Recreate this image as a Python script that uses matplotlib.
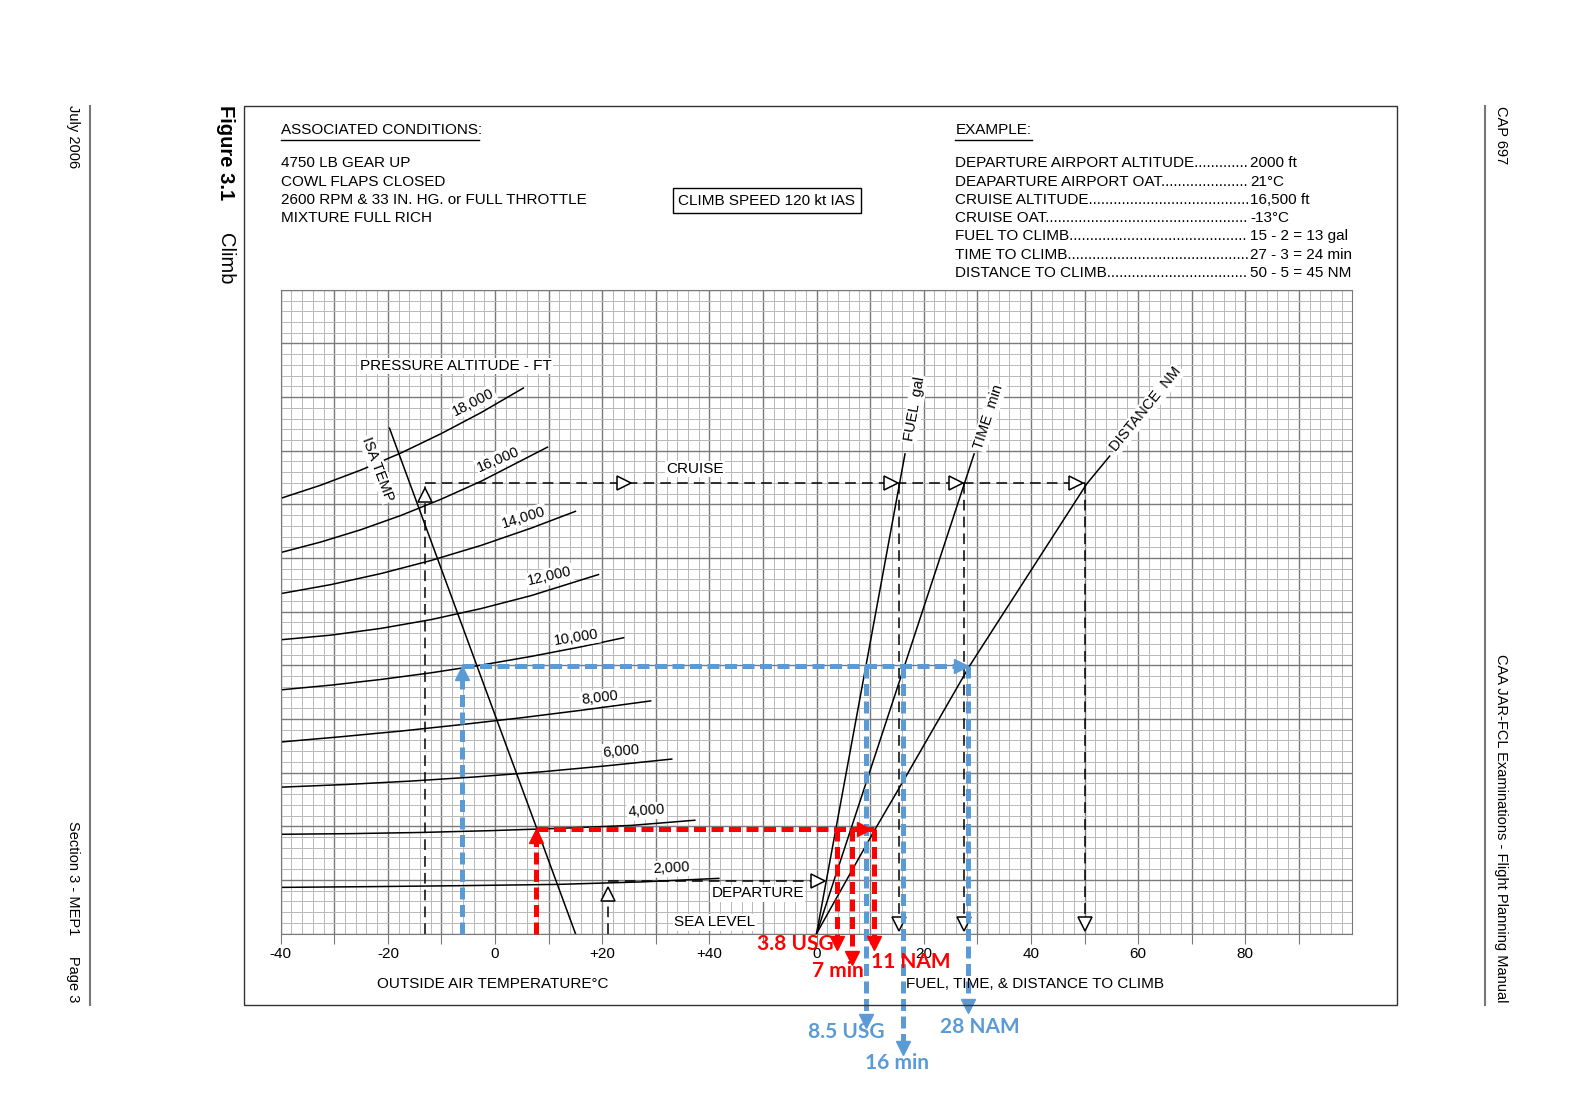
import matplotlib.pyplot as plt
import numpy as np
from matplotlib.lines import Line2D
from matplotlib.patches import Rectangle

plt.rcParams['font.family'] = ['Liberation Sans', 'DejaVu Sans']

# ---- data ----
# x: OAT in degC on the left part, fuel/time/distance on the right part
# (the right scale's zero sits where +60 degC would be)
OFFSET = 60
temp_ticks = [-40, -20, 0, 20, 40]
temp_ticklabels = ['-40', '-20', '0', '+20', '+40']
ftd_ticks = [0, 20, 40, 60, 80]

# pressure altitude curves, y in minor grid cells above the bottom edge
alt_names = ['2,000', '4,000', '6,000', '8,000', '10,000', '12,000', '14,000', '16,000', '18,000']
alt_oat = [
    [-40, -23.16, -6.32, 11.82, 27.35, 41.76],
    [-40, -26.90, -13.81, -0.71, 12.38, 25.48, 37.27],
    [-40, -27.84, -15.68, -3.52, 8.64, 20.80, 32.97],
    [-40, -28.77, -17.55, -6.32, 4.90, 16.13, 29.04],
    [-40, -30.65, -21.29, -11.94, -2.58, 6.77, 16.13, 23.99],
    [-40, -30.65, -21.29, -11.94, -2.58, 6.77, 19.31],
    [-40, -30.65, -21.29, -11.94, -2.58, 6.77, 15.0],
    [-40, -32.52, -25.03, -17.55, -10.07, -2.58, 9.77],
    [-40, -32.52, -25.03, -17.55, -10.07, -2.58, 5.28],
]
alt_h = [
    [4.30, 4.37, 4.46, 4.58, 4.81, 5.14],
    [9.25, 9.31, 9.42, 9.59, 9.81, 10.08, 10.56],
    [13.64, 13.89, 14.21, 14.60, 15.07, 15.63, 16.26],
    [17.85, 18.34, 18.87, 19.47, 20.11, 20.81, 21.68],
    [22.71, 23.15, 23.68, 24.30, 25.02, 25.83, 26.73, 27.57],
    [27.38, 27.81, 28.44, 29.26, 30.29, 31.50, 33.46],
    [31.68, 32.52, 33.55, 34.77, 36.18, 37.79, 39.35],
    [35.51, 36.49, 37.64, 38.97, 40.48, 42.16, 45.33],
    [40.56, 41.79, 43.20, 44.79, 46.59, 48.56, 50.84],
]
isa_oat = [15.0, -19.7]
isa_h = [0, 47.1]

fuel_val = [0, 16.5]
fuel_h = [0, 44.7]
time_val = [0, 29.4]
time_h = [0, 44.7]
dist_val = [0, 6.4, 10.9, 15.7, 28.5, 33.9, 50.4, 54.7]
dist_h = [0, 5.7, 9.7, 13.8, 24.9, 29.1, 41.9, 44.5]

# printed example (black dashed)
dep_oat, dep_h = 21, 4.85
cruise_oat, cruise_h = -13, 42.0
cruise_reads = [15.4, 27.5, 50.0]

# hand-drawn overlays
red_oat, red_h = 7.7, 9.72
red_reads = [3.9, 6.7, 10.7]
red_labels = ['3.8 USG', '7 min', '11 NAM']
blue_oat, blue_h = -6.1, 24.9
blue_reads = [9.2, 16.2, 28.3]
blue_labels = ['8.5 USG', '16 min', '28 NAM']

conditions = ['4750 LB GEAR UP', 'COWL FLAPS CLOSED',
              '2600 RPM & 33 IN. HG. or FULL THROTTLE', 'MIXTURE FULL RICH']
example_names = ['DEPARTURE AIRPORT ALTITUDE', 'DEAPARTURE AIRPORT OAT', 'CRUISE ALTITUDE',
                 'CRUISE OAT', 'FUEL TO CLIMB', 'TIME TO CLIMB', 'DISTANCE TO CLIMB']
example_values = ['2000 ft', '21°C', '16,500 ft', '-13°C', '15 - 2 = 13 gal',
                  '27 - 3 = 24 min', '50 - 5 = 45 NM']

RED = '#FF0000'
BLUE = '#5B9BD5'
W, H = 1568, 1108


def fx(px):
    return px / W


def fy(py):
    return 1 - py / H


fig = plt.figure(figsize=(15.72, 11.11), dpi=100)
ax = fig.add_axes([fx(280), fy(931), (1349 - 280) / W, (931 - 289) / H])
ax.set_xlim(-40, 160)
ax.set_ylim(0, 60)
ax.set_axisbelow(True)

# grid
ax.set_xticks(np.arange(-40, 161, 2), minor=True)
ax.set_yticks(np.arange(0, 61, 1), minor=True)
major_x = np.arange(-40, 151, 10)
ax.set_xticks(major_x)
ax.set_yticks(np.arange(0, 61, 5))
ax.grid(which='minor', color='#b8b8b8', lw=0.7)
ax.grid(which='major', color='#7a7a7a', lw=1.0)
labels = []
for t in major_x:
    if t in temp_ticks:
        labels.append(temp_ticklabels[temp_ticks.index(t)])
    elif t - OFFSET in ftd_ticks:
        labels.append(str(t - OFFSET))
    else:
        labels.append('')
ax.set_xticklabels(labels, fontsize=11)
ax.tick_params(axis='x', which='major', length=7.5, color='#7a7a7a', pad=2.5)
ax.tick_params(which='minor', length=0)
ax.tick_params(axis='y', length=0, labelleft=False)
for s in ax.spines.values():
    s.set_color('#7a7a7a')

# altitude curves and ISA line
for xs, ys in zip(alt_oat, alt_h):
    ax.plot(xs, ys, color='black', lw=1.1)
ax.plot(isa_oat, isa_h, color='black', lw=1.1)

# fuel / time / distance lines
ax.plot(np.array(fuel_val) + OFFSET, fuel_h, color='black', lw=1.1)
ax.plot(np.array(time_val) + OFFSET, time_h, color='black', lw=1.1)
ax.plot(np.array(dist_val) + OFFSET, dist_h, color='black', lw=1.1)

# curve labels
bb = dict(facecolor='white', edgecolor='none', pad=1)
alt_lab_pos = [(32.97, 6.07, 3), (28.29, 11.4, 4), (23.61, 17.01, 5), (19.49, 21.96, 7),
               (15.19, 27.57, 9), (10.14, 33.27, 13), (5.28, 38.79, 17), (0.6, 44.21, 23),
               (-4.08, 49.53, 27)]
for name, (x, y, r) in zip(alt_names, alt_lab_pos):
    ax.text(x, y, name, fontsize=10.5, rotation=r, rotation_mode='anchor',
            ha='center', va='center', bbox=bb)
ax.text(-7.26, 52.9, 'PRESSURE ALTITUDE - FT', fontsize=11, ha='center', va='center', bbox=bb)
ax.text(-21.85, 43.3, 'ISA TEMP', fontsize=10.5, rotation=-69.5, rotation_mode='anchor',
        ha='center', va='center', bbox=bb)
ax.text(37.27, 43.3, 'CRUISE', fontsize=11, ha='center', va='center', bbox=bb)
ax.text(49.0, 3.74, 'DEPARTURE', fontsize=11, ha='center', va='center', bbox=bb)
ax.text(41.0, 1.03, 'SEA LEVEL', fontsize=11, ha='center', va='center', bbox=bb)
ax.text(78.24, 48.88, 'FUEL  gal', fontsize=10.5, rotation=80, rotation_mode='anchor',
        ha='center', va='center', bbox=bb)
ax.text(92.09, 48.13, 'TIME  min', fontsize=10.5, rotation=72, rotation_mode='anchor',
        ha='center', va='center', bbox=bb)
ax.text(121.46, 48.88, 'DISTANCE  NM', fontsize=10.5, rotation=51, rotation_mode='anchor',
        ha='center', va='center', bbox=bb)

# printed example path (black dashed with open triangles)
dash = dict(color='black', lw=1.1, ls=(0, (7, 4)))
tri = dict(ms=10, mfc='white', mec='black', mew=1.1, ls='none', zorder=4)
ax.plot([dep_oat, dep_oat], [0, dep_h - 0.5], **dash)
ax.plot(dep_oat, 3.7, marker='^', **tri)
ax.plot([dep_oat, OFFSET + 1.6], [dep_h, dep_h], **dash)
ax.plot(OFFSET + 0.2, dep_h, marker='>', **tri)

ax.plot([cruise_oat, cruise_oat], [0, cruise_h], **dash)
ax.plot(cruise_oat, 40.84, marker='^', **tri)
ax.plot([cruise_oat, cruise_reads[2] + OFFSET], [cruise_h, cruise_h], **dash)
ax.plot(24.0, cruise_h, marker='>', **tri)
for v in cruise_reads:
    ax.plot([v + OFFSET, v + OFFSET], [cruise_h, 0.8], **dash)
    ax.plot(v + OFFSET - 1.5, cruise_h, marker='>', **tri)
    ax.plot(v + OFFSET, 0.85, marker='v', **tri)


# hand-drawn overlays
def overlay(oat, h, reads, tips, col, head_x):
    st = dict(color=col, lw=3.6, ls=(0, (2.4, 1.1)), clip_on=False, zorder=6,
              solid_capstyle='butt', dash_capstyle='butt')
    hd = dict(color=col, ms=10, ls='none', clip_on=False, zorder=7)
    ax.plot([oat, oat], [0, h - 0.6], **st)
    ax.plot(oat, h - 0.6, marker='^', **hd)
    ax.plot([oat, reads[-1] + OFFSET], [h, h], **st)
    ax.plot(head_x, h, marker='>', **hd)
    for v, tip in zip(reads, tips):
        ax.plot([v + OFFSET, v + OFFSET], [h, tip + 0.6], **st)
        ax.plot(v + OFFSET, tip + 0.6, marker='v', **hd)


overlay(red_oat, red_h, red_reads, [-1.5, -2.9, -1.5], RED, 68.9)
overlay(blue_oat, blue_h, blue_reads, [-8.8, -11.3, -7.4], BLUE, 86.9)

lab_font = dict(family=['Lato', 'DejaVu Sans'], fontsize=15, fontweight='bold',
                ha='center', va='center', clip_on=False, zorder=8)
for lab, (x, y) in zip(red_labels, [(55.98, -1.0), (64.02, -3.5), (77.49, -2.65)]):
    ax.text(x, y, lab, color=RED, **lab_font)
for lab, (x, y) in zip(blue_labels, [(65.52, -9.15), (75.06, -12.05), (90.4, -8.7)]):
    ax.text(x, y, lab, color=BLUE, **lab_font)

# axis titles
fig.text(fx(491), fy(981), 'OUTSIDE AIR TEMPERATURE°C', fontsize=11, ha='center', va='center')
fig.text(fx(1032), fy(981), 'FUEL, TIME, & DISTANCE TO CLIMB', fontsize=11, ha='center', va='center')

# header block
fig.text(fx(280), fy(130), 'ASSOCIATED CONDITIONS:', fontsize=11, va='center')
fig.add_artist(Line2D([fx(280), fx(478)], [fy(139.5), fy(139.5)], color='black', lw=1))
for i, line in enumerate(conditions):
    fig.text(fx(280), fy(163 + 18.3 * i), line, fontsize=11, va='center')
fig.text(fx(765), fy(200), 'CLIMB SPEED 120 kt IAS', fontsize=11, ha='center', va='center',
         bbox=dict(facecolor='white', edgecolor='black', lw=1, pad=4))

fig.text(fx(953), fy(130), 'EXAMPLE:', fontsize=11, va='center')
fig.add_artist(Line2D([fx(953), fx(1029)], [fy(139.5), fy(139.5)], color='black', lw=1))
renderer = fig.canvas.get_renderer()
dot = fig.text(0, 0, '.', fontsize=11)
dot_w = dot.get_window_extent(renderer).width
dot.remove()
for i, (name, val) in enumerate(zip(example_names, example_values)):
    y = fy(163 + 18.2 * i)
    t = fig.text(fx(953), y, name, fontsize=11, va='center')
    w = t.get_window_extent(renderer).width
    n = int((1247 / W * fig.bbox.width - 953 / W * fig.bbox.width - w) / dot_w)
    t.set_text(name + '.' * max(n, 0))
    fig.text(fx(1247), y, val, fontsize=11, va='center')

# page furniture
fig.add_artist(Rectangle((fx(243), fy(1002)), (1393 - 243) / W, (1002 - 106) / H,
                         transform=fig.transFigure, fill=False, ec='#333333', lw=1))
fig.add_artist(Line2D([fx(90), fx(90)], [fy(106), fy(1002)], color='#777777', lw=1.5))
fig.add_artist(Line2D([fx(1481), fx(1481)], [fy(106), fy(1002)], color='#777777', lw=1.5))
fig.text(fx(73), fy(105), 'July 2006', fontsize=10.5, rotation=-90, ha='center', va='top')
fig.text(fx(73), fy(1000), 'Section 3 - MEP1     Page 3', fontsize=10.5, rotation=-90,
         ha='center', va='bottom')
fig.text(fx(225), fy(105), 'Figure 3.1', fontsize=14.5, fontweight='bold', rotation=-90,
         ha='center', va='top')
fig.text(fx(225), fy(232), 'Climb', fontsize=14.5, rotation=-90, ha='center', va='top')
fig.text(fx(1497), fy(106), 'CAP 697', fontsize=10.5, rotation=-90, ha='center', va='top')
fig.text(fx(1497), fy(1000), 'CAA JAR-FCL Examinations - Flight Planning Manual', fontsize=10.5,
         rotation=-90, ha='center', va='bottom')

fig.savefig('out.png', dpi=100, facecolor='white')
